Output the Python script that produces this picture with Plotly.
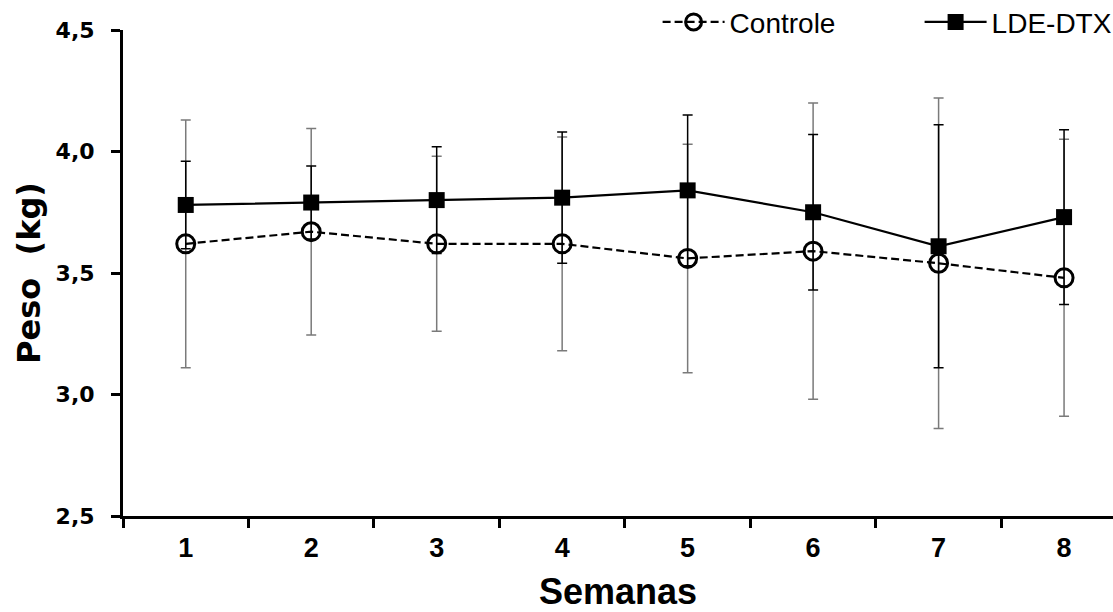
import plotly.graph_objects as go

weeks = [1, 2, 3, 4, 5, 6, 7, 8]
week_labels = ["1", "2", "3", "4", "5", "6", "7", "8"]
controle = [3.62, 3.67, 3.62, 3.62, 3.56, 3.59, 3.54, 3.48]
controle_err = [0.51, 0.425, 0.36, 0.44, 0.47, 0.61, 0.68, 0.57]
lde_dtx = [3.78, 3.79, 3.80, 3.81, 3.84, 3.75, 3.61, 3.73]
lde_dtx_err = [0.18, 0.15, 0.22, 0.27, 0.31, 0.32, 0.50, 0.36]
y_ticks = [2.5, 3.0, 3.5, 4.0, 4.5]
y_tick_labels = ["2,5", "3,0", "3,5", "4,0", "4,5"]

ARIAL = "Liberation Sans, Arial, sans-serif"
DEJAVU = "DejaVu Sans, Verdana, sans-serif"

fig = go.Figure()
fig.add_trace(go.Scatter(
    x=weeks, y=controle, name="Controle", mode="lines+markers",
    line=dict(color="black", width=2.2, dash="8px,4px"),
    marker=dict(symbol="circle-open", size=18, color="black", line=dict(width=3, color="black")),
    error_y=dict(type="data", array=controle_err, visible=True, color="#7a7a7a", thickness=1.5, width=5),
))
fig.add_trace(go.Scatter(
    x=weeks, y=lde_dtx, name="LDE-DTX", mode="lines+markers",
    line=dict(color="black", width=2.2),
    marker=dict(symbol="square", size=16, color="black"),
    error_y=dict(type="data", array=lde_dtx_err, visible=True, color="black", thickness=1.5, width=5),
))

fig.update_layout(
    width=1113, height=612,
    margin=dict(l=123, r=0, t=30, b=96, autoexpand=False),
    paper_bgcolor="white", plot_bgcolor="white",
    font=dict(family=ARIAL, color="black"),
    showlegend=True,
    legend=dict(orientation="h", x=0.540, y=1.016, xanchor="left", yanchor="middle",
                font=dict(size=28, family=ARIAL), bgcolor="rgba(0,0,0,0)",
                itemwidth=62, entrywidth=185),
)
fig.update_xaxes(
    range=[0.5, 8.39], tickvals=weeks, ticktext=["<b>%s</b>" % t for t in week_labels], ticks="",
    ticklabelstandoff=6,
    showline=True, linecolor="black", linewidth=3, showgrid=False, zeroline=False,
    tickfont=dict(size=27, family=ARIAL), automargin=False,
    minor=dict(tick0=0.5, dtick=1, ticks="outside", ticklen=9, tickwidth=2.5, tickcolor="black", showgrid=False),
    title=dict(text="<b>Semanas</b>", font=dict(size=36, family=ARIAL), standoff=22),
)
fig.update_yaxes(
    range=[2.5, 4.5], tickvals=y_ticks, ticktext=["<b>%s</b>" % t for t in y_tick_labels],
    ticks="outside", ticklen=9, ticklabelstandoff=12,
    tickwidth=2.5, tickcolor="black", showline=True, linecolor="black", linewidth=3,
    showgrid=False, zeroline=False, automargin=False,
    tickfont=dict(size=22, family=DEJAVU),
    title=dict(text="<b>Peso  (kg)</b>", font=dict(size=32, family=DEJAVU), standoff=6),
)

fig.write_html("out.html", config={"displayModeBar": False},
               post_script="document.body.style.margin='0px';document.body.style.overflow='hidden';")
